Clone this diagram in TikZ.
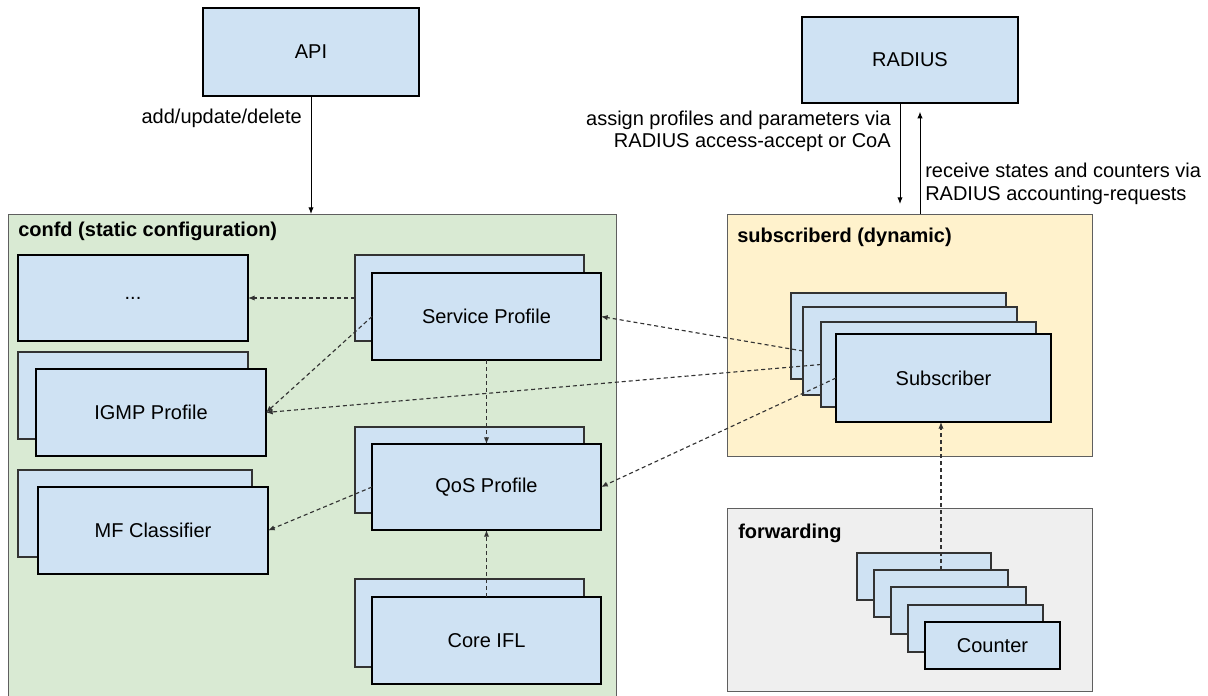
\documentclass[tikz,border=0pt]{standalone}
\usepackage{fontspec}
\setmainfont{Liberation Sans}
\usetikzlibrary{arrows.meta}
\definecolor{boxblue}{HTML}{CFE2F3}
\definecolor{confgreen}{HTML}{D9EAD3}
\definecolor{subyellow}{HTML}{FFF2CC}
\definecolor{fwdgray}{HTML}{EFEFEF}
\definecolor{edgegray}{HTML}{5F5F5F}
\definecolor{darkline}{HTML}{333333}
% style, name, x1, y1, x2, y2, text
\newcommand{\pbox}[7]{\node[#1, minimum width={(#5-#3)*0.75pt}, minimum height={(#6-#4)*0.75pt}] (#2) at ({(#3+#5)/2},{(#4+#6)/2}) {#7};}
\begin{document}
\begin{tikzpicture}[x=0.75pt, y=-0.75pt,
  every node/.style={font=\fontsize{15pt}{18pt}\selectfont},
  box/.style={draw=black, fill=boxblue, line width=0.8pt, inner sep=0pt, outer sep=0pt},
  backbox/.style={box, draw=darkline},
  container/.style={draw=edgegray, line width=0.75pt, inner sep=0pt, outer sep=0pt},
  titletext/.style={font=\fontsize{15pt}{18pt}\selectfont\bfseries, anchor=base west, inner sep=0pt},
  lbl/.style={inner sep=0pt},
  arr/.style={-{Latex[length=5pt,width=4pt]}, line width=0.75pt, draw=black},
  darr/.style={-{Latex[length=5pt,width=4pt]}, line width=0.85pt, draw=darkline, dash pattern=on 3pt off 2.25pt}
]
\useasboundingbox (0,0) rectangle (1208,696);
\fill[white] (0,0) rectangle (1208,696);

% top boxes
\pbox{box}{api}{203}{8}{419}{96}{API}
\pbox{box}{radius}{802}{17}{1018}{103}{RADIUS}

% containers
\pbox{container, fill=confgreen}{confd}{8}{214}{616}{704}{}
\pbox{container, fill=subyellow}{subd}{727}{214}{1092}{456}{}
\pbox{container, fill=fwdgray}{fwd}{727}{508}{1092}{691}{}
\node[titletext] (confdt) at (18,236) {confd (static configuration)};
\node[titletext] (subdt) at (737,242) {subscriberd (dynamic)};
\node[titletext] (fwdt) at (738,538) {forwarding};

% confd inner boxes
\pbox{box}{dots}{18}{255}{248}{341}{...}
\pbox{backbox}{igmpb}{18}{352}{248}{439}{}
\pbox{box}{igmp}{36}{369}{266}{456}{IGMP Profile}
\pbox{backbox}{mfb}{18}{470}{252}{557}{}
\pbox{box}{mf}{38}{487}{268}{574}{MF Classifier}
\pbox{backbox}{svcb}{355}{255}{584}{341}{}
\pbox{box}{svc}{372}{273}{601}{360}{Service Profile}
\pbox{backbox}{qosb}{355}{427}{584}{513}{}
\pbox{box}{qos}{372}{444}{601}{530}{QoS Profile}
\pbox{backbox}{coreb}{355}{579}{584}{667}{}
\pbox{box}{core}{372}{597}{601}{684}{Core IFL}

% subscriber stack
\pbox{backbox}{sub1}{791}{293}{1006}{379}{}
\pbox{backbox}{sub2}{803}{307}{1017}{395}{}
\pbox{backbox}{sub3}{821}{322}{1036}{407}{}
\pbox{box}{sub4}{836}{334}{1051}{422}{Subscriber}

% counter stack
\pbox{backbox}{cnt1}{857}{553}{991}{600}{}
\pbox{backbox}{cnt2}{874}{570}{1008}{617}{}
\pbox{backbox}{cnt3}{891}{587}{1026}{634}{}
\pbox{backbox}{cnt4}{908}{605}{1043}{652}{}
\pbox{box}{cnt5}{925}{622}{1060}{669}{Counter}

% labels
\node[lbl, anchor=base east] (l1) at (302,123) {add/update/delete};
\node[lbl, anchor=base east] (l2a) at (891,125) {assign profiles and parameters via};
\node[lbl, anchor=base east] (l2b) at (891,147) {RADIUS access-accept or CoA};
\node[lbl, anchor=base west] (l3a) at (925,177) {receive states and counters via};
\node[lbl, anchor=base west] (l3b) at (925,200) {RADIUS accounting-requests};

% solid connectors
\draw[arr] (api.south) -- (api.south |- confd.north);
\coordinate (rdown) at ([xshift=-7.5pt]radius.south);
\coordinate (rup) at ([xshift=7.5pt]radius.south);
\draw[arr, shorten >=7.5pt] (rdown) -- (rdown |- subd.north);
\draw[arr, shorten >=6.5pt] (rup |- subd.north) -- (rup);

% dashed connectors
\draw[darr] (svcb.west) -- (dots.east);
\draw[darr] (svc.west) -- (igmp.east);
\draw[darr] (svc.south) -- (qos.north);
\draw[darr] (qos.west) -- (mf.east);
\draw[darr] (core.north) -- (qos.south);
\draw[darr] (sub2.west) -- (svc.east);
\draw[darr] (sub3.west) -- (igmp.east);
\draw[darr] (sub4.west) -- (qos.east);
\draw[darr] (cnt2.north) -- (cnt2.north |- sub4.south);
\end{tikzpicture}
\end{document}
